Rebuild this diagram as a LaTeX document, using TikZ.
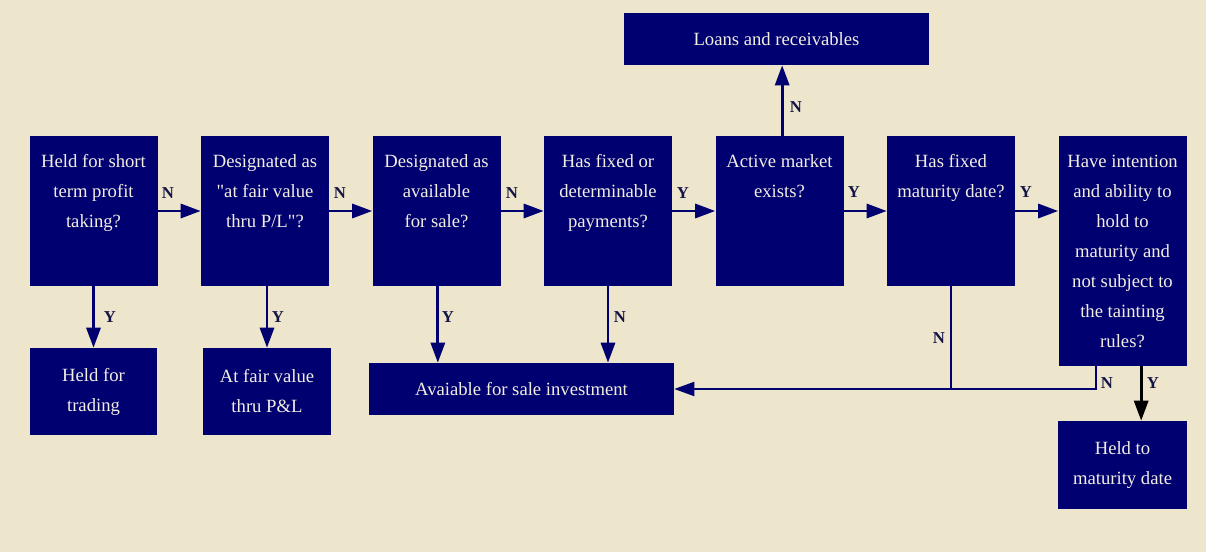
\documentclass[tikz,border=0pt]{standalone}
\usepackage{fontspec}
\setmainfont{Liberation Serif}
\newfontfamily\rawserif{Liberation Serif}
\usetikzlibrary{arrows.meta,positioning,calc}
\definecolor{bgcream}{RGB}{237,230,204}
\definecolor{boxnavy}{RGB}{0,0,112}
\definecolor{boxtext}{RGB}{242,238,226}
\definecolor{yncol}{RGB}{20,20,70}
\newcommand{\dq}{{\rawserif"}}
\tikzset{
  qbox/.style={fill=boxnavy, inner sep=0pt, minimum width=96pt, minimum height=112.5pt},
  rbox/.style={fill=boxnavy, inner sep=0pt, text=boxtext, align=center,
    font=\fontsize{14}{22.5}\selectfont},
  qtext/.style={anchor=north, inner sep=0pt, text=boxtext, align=center,
    font=\fontsize{14}{22.5}\selectfont},
  yn/.style={inner sep=0pt, text=yncol, font=\fontsize{12.5}{12.5}\selectfont\bfseries},
  flow/.style={draw=boxnavy, line width=2.2pt, -{Triangle[length=15pt,width=10.5pt]}},
  link/.style={draw=boxnavy, line width=1.5pt}
}
\begin{document}
\begin{tikzpicture}[x=0.75pt,y=-0.75pt]
\fill[bgcream] (0,0) rectangle (1206,552);
\useasboundingbox (0,0) rectangle (1206,552);
% questions
\node[qbox] (q1) at (93.5,211) {};
\node[qbox] (q2) at (265,211) {};
\node[qbox] (q3) at (436.5,211) {};
\node[qbox] (q4) at (608,211) {};
\node[qbox] (q5) at (779.5,211) {};
\node[qbox] (q6) at (951,211) {};
\node[qbox, minimum height=172.5pt] (q7) at (1122.5,251) {};
\node[qtext] (q1t) at ([yshift=-14pt]q1.north) {Held for short\\term profit\\taking?};
\node[qtext] (q2t) at ([yshift=-14pt]q2.north) {Designated as\\\dq at fair value\\thru P/L\dq?};
\node[qtext] (q3t) at ([yshift=-14pt]q3.north) {Designated as\\available\\for sale?};
\node[qtext] (q4t) at ([yshift=-14pt]q4.north) {Has fixed or\\determinable\\payments?};
\node[qtext] (q5t) at ([yshift=-14pt]q5.north) {Active market\\exists?};
\node[qtext] (q6t) at ([yshift=-14pt]q6.north) {Has fixed\\maturity date?};
\node[qtext] (q7t) at ([yshift=-14pt]q7.north) {Have intention\\and ability to\\hold to\\maturity and\\not subject to\\the tainting\\rules?};
% outcomes
\node[rbox, minimum width=95.25pt, minimum height=65.25pt] (trade) at (93.5,391.5) {Held for\\trading};
\node[rbox, minimum width=96pt, minimum height=65.25pt] (fvpl) at (267,391.5) {At fair value\\thru P\&L};
\node[rbox, minimum width=228.75pt, minimum height=39pt] (afs) at (521.5,389) {Avaiable for sale investment};
\node[rbox, minimum width=228.75pt, minimum height=39pt] (loans) at (776.5,39) {Loans and receivables};
\node[rbox, minimum width=96.75pt, minimum height=66pt] (htm) at (1122.5,465) {Held to\\maturity date};
% arrows
\draw[flow] (q1.east) -- (q2.west);
\draw[flow] (q2.east) -- (q3.west);
\draw[flow] (q3.east) -- (q4.west);
\draw[flow] (q4.east) -- (q5.west);
\draw[flow] (q5.east) -- (q6.west);
\draw[flow] (q6.east) -- (q6.east -| q7.west);
\draw[flow] (q1.south) -- (trade.north);
\draw[flow] ([xshift=1.5pt]q2.south) -- ([xshift=1.5pt]q2.south |- fvpl.north);
\draw[flow] ([xshift=1pt]q3.south) -- ([xshift=1pt]q3.south |- afs.north);
\draw[flow] (q4.south) -- (q4.south |- afs.north);
\draw[flow] ([xshift=2pt]q5.north) -- ([xshift=2pt]q5.north |- loans.south);
\draw[link] (q6.south) -- (q6.south |- afs.east);
\draw[link, -{Triangle[length=15pt,width=10.5pt]}] ([xshift=-20pt]q7.south) |- (afs.east);
\draw[draw=black, line width=2.2pt, -{Triangle[length=15pt,width=10.5pt]}] ([xshift=14pt]q7.south) -- ([xshift=14pt]htm.north);
% labels
\node[yn] (l12) at (168,193) {N};
\node[yn] (l23) at (340,193) {N};
\node[yn] (l34) at (512,193) {N};
\node[yn] (l45) at (683,193) {Y};
\node[yn] (l56) at (854,192) {Y};
\node[yn] (l67) at (1026,192) {Y};
\node[yn] (l1d) at (110,317) {Y};
\node[yn] (l2d) at (278,317) {Y};
\node[yn] (l3d) at (448,317) {Y};
\node[yn] (l4d) at (620,317) {N};
\node[yn] (l5u) at (796,107) {N};
\node[yn] (l6d) at (939,338) {N};
\node[yn] (l7n) at (1107,383) {N};
\node[yn] (l7y) at (1153,383) {Y};
\end{tikzpicture}
\end{document}
